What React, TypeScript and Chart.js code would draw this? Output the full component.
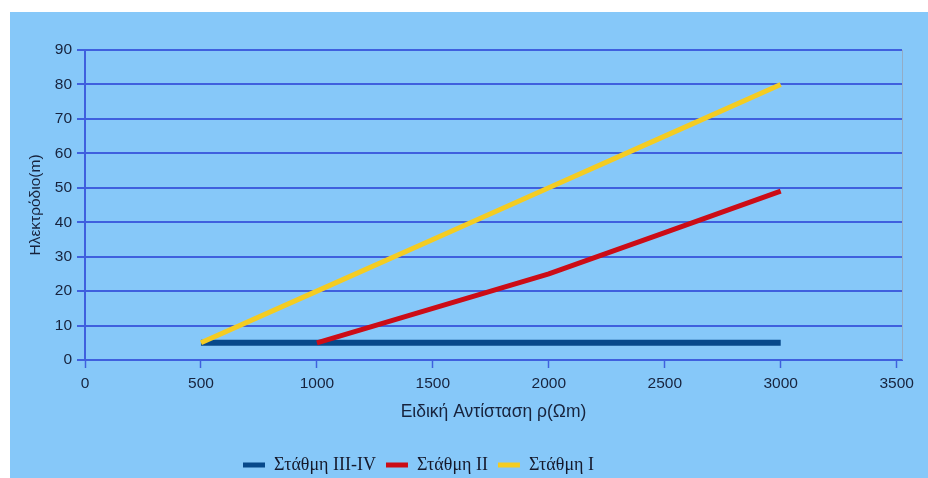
import React, { useEffect, useRef } from "react";
import { Chart, registerables } from "chart.js";

Chart.register(...registerables);

// ---- data ----
const xTickValues = [0, 500, 1000, 1500, 2000, 2500, 3000, 3500];
const seriesNames = ["Στάθμη III-IV", "Στάθμη II", "Στάθμη I"];

const level34X = [500, 3000];
const level34Y = [5, 5];

const level2X = [1000, 1500, 2000, 2500, 3000];
const level2Y = [5, 15, 25, 37, 49];

const level1X = [500, 1000, 1500, 2000, 2500, 3000];
const level1Y = [5, 20, 35, 50, 65, 80];

const xTitle = "Ειδική Αντίσταση ρ(Ωm)";
const yTitle = "Ηλεκτρόδιο(m)";

const seriesColors = ["#07498b", "#cc0c16", "#f4cc22"];

const toPoints = (xs: number[], ys: number[]) => xs.map((x, i) => ({ x, y: ys[i] }));

const W = 918;
const H = 466;

export default function App() {
  const ref = useRef<HTMLCanvasElement | null>(null);

  useEffect(() => {
    document.body.style.margin = "0";
    document.body.style.background = "#ffffff";
    const canvas = ref.current;
    if (!canvas) return;

    const gridBlue = "#3f60de";
    const textColor = "#17233d";

    const extras = {
      id: "extras",
      afterLayout(chart: any) {
        const lg = chart.legend;
        if (lg) {
          const targetLeft = 233 - 10;
          const dx = targetLeft - lg.left;
          lg.left += dx;
          lg.right += dx;
          lg.top += 6;
          lg.bottom += 6;
        }
      },
      beforeDatasetsDraw(chart: any) {
        const { ctx, chartArea } = chart;
        ctx.save();
        ctx.strokeStyle = "rgba(150,165,185,0.8)";
        ctx.lineWidth = 1;
        ctx.beginPath();
        ctx.moveTo(chartArea.right + 0.5, chartArea.top);
        ctx.lineTo(chartArea.right + 0.5, chartArea.bottom);
        ctx.stroke();
        ctx.restore();
      },
    };

    const chart = new Chart(canvas, {
      type: "line",
      data: {
        datasets: [
          {
            label: seriesNames[0],
            data: toPoints(level34X, level34Y),
            borderColor: seriesColors[0],
            backgroundColor: seriesColors[0],
            borderWidth: 6,
            pointRadius: 0,
            order: 1,
          },
          {
            label: seriesNames[1],
            data: toPoints(level2X, level2Y),
            borderColor: seriesColors[1],
            backgroundColor: seriesColors[1],
            borderWidth: 5,
            pointRadius: 0,
            order: 0,
          },
          {
            label: seriesNames[2],
            data: toPoints(level1X, level1Y),
            borderColor: seriesColors[2],
            backgroundColor: seriesColors[2],
            borderWidth: 5,
            pointRadius: 0,
            order: 0,
          },
        ],
      },
      options: {
        responsive: false,
        animation: false,
        devicePixelRatio: 1,
        layout: { padding: { left: 0, top: 38, right: 26, bottom: 0 } },
        font: { family: "'Liberation Sans', Arial, sans-serif" },
        plugins: {
          tooltip: { enabled: false },
          legend: {
            position: "bottom",
            align: "start",
            labels: {
              boxWidth: 22,
              boxHeight: 5,
              padding: 10,
              color: "#15192b",
              font: { family: "'Liberation Serif', 'Times New Roman', serif", size: 18 },
              sort: (a: any, b: any) => a.datasetIndex - b.datasetIndex,
              generateLabels: (chart: any) => {
                const items = (Chart as any).defaults.plugins.legend.labels.generateLabels(chart);
                return items.map((it: any) => ({
                  ...it,
                  fillStyle: it.strokeStyle,
                  lineWidth: 0,
                }));
              },
            },
          },
        },
        scales: {
          x: {
            type: "linear",
            min: 0,
            max: 3523,
            afterFit: (s: any) => {
              s.height = 80;
            },
            afterBuildTicks: (s: any) => {
              s.ticks = xTickValues.map((v) => ({ value: v }));
            },
            ticks: {
              stepSize: 500,
              includeBounds: false,
              padding: 6,
              color: textColor,
              font: { size: 15.5 },
              maxRotation: 0,
              callback: (v: any) => String(v),
            },
            grid: {
              drawOnChartArea: false,
              drawTicks: true,
              tickLength: 8,
              tickColor: gridBlue,
              tickWidth: 1.5,
              color: gridBlue,
            },
            border: { display: true, color: gridBlue, width: 2 },
            title: {
              display: true,
              text: xTitle,
              color: textColor,
              font: { size: 17.5 },
              padding: { top: 0, bottom: 17 },
            },
          },
          y: {
            min: 0,
            max: 90,
            afterFit: (s: any) => {
              s.width = 75;
            },
            ticks: {
              stepSize: 10,
              padding: 5,
              color: textColor,
              font: { size: 15.5 },
            },
            grid: {
              color: gridBlue,
              lineWidth: 2,
              drawTicks: true,
              tickLength: 8,
              tickColor: gridBlue,
            },
            border: { display: true, color: gridBlue, width: 2 },
            title: {
              display: true,
              text: yTitle,
              color: textColor,
              font: { size: 15.5 },
              padding: { top: 16, bottom: 0 },
            },
          },
        },
      },
      plugins: [extras],
    } as any);

    return () => chart.destroy();
  }, []);

  return (
    <div style={{ width: 928, height: 478, background: "#ffffff", position: "relative" }}>
      <canvas
        ref={ref}
        width={W}
        height={H}
        style={{
          position: "absolute",
          left: 10,
          top: 12,
          width: W,
          height: H,
          background: "#86c8f9",
          display: "block",
        }}
      />
    </div>
  );
}
